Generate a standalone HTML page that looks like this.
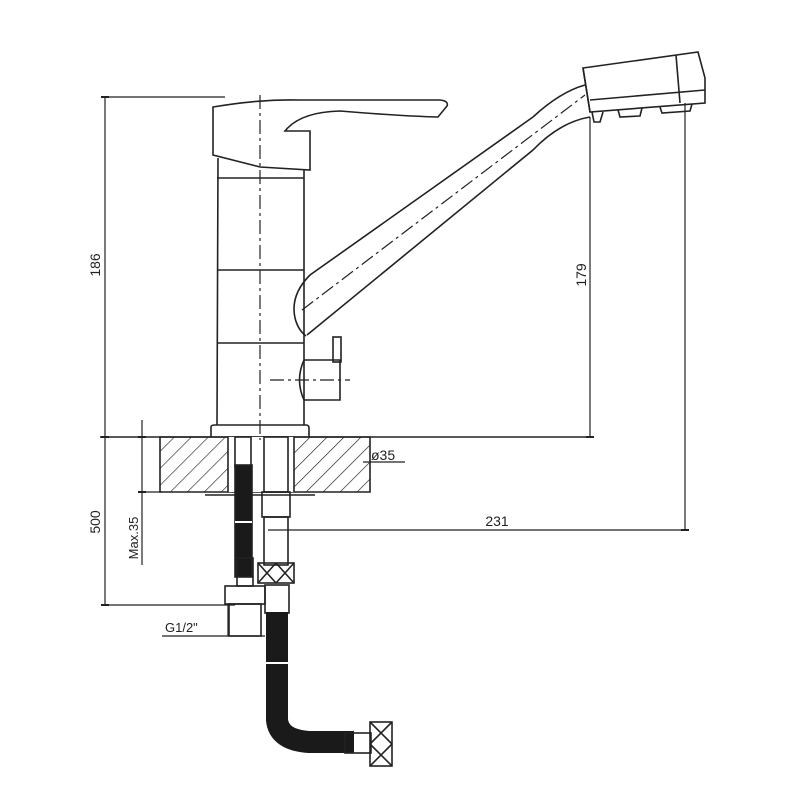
<!DOCTYPE html>
<html><head><meta charset="utf-8"><style>body{margin:0;background:#fff}svg{display:block}text{font-family:"Liberation Sans",sans-serif;fill:#222}</style></head>
<body>
<svg width="800" height="800" viewBox="0 0 800 800" xmlns="http://www.w3.org/2000/svg">
<defs>
<pattern id="h" width="12" height="12" patternUnits="userSpaceOnUse" patternTransform="rotate(45)"><line x1="0" y1="0" x2="0" y2="12" stroke="#222" stroke-width="1.3"/></pattern>
</defs>
<g fill="none" stroke="#222" stroke-width="1.6">
<line x1="105" y1="97" x2="105" y2="605" stroke-width="1.2"/>
<line x1="105" y1="97" x2="225" y2="97" stroke-width="1.2"/>
<line x1="100" y1="437" x2="592" y2="437" stroke-width="1.4"/>
<line x1="105" y1="605" x2="235" y2="605" stroke-width="1.2"/>
<line x1="590" y1="117" x2="590" y2="437" stroke-width="1.2"/>
<line x1="685" y1="103" x2="685" y2="530" stroke-width="1.2"/>
<line x1="268" y1="530" x2="685" y2="530" stroke-width="1.2"/>
<line x1="142" y1="420" x2="142" y2="565" stroke-width="1.2"/>
<line x1="140" y1="492" x2="162" y2="492" stroke-width="1.2"/>
<line x1="162" y1="636" x2="265" y2="636" stroke-width="1.2"/>
<line x1="228" y1="605" x2="228" y2="636" stroke-width="1.2"/>
<line x1="363" y1="462" x2="405" y2="462" stroke-width="1.2"/>
<path d="M160 437 H370 V492 H160 Z" fill="url(#h)"/>
<rect x="228" y="437" width="66" height="55" fill="#fff" stroke="none"/>
<line x1="228" y1="437" x2="228" y2="492"/><line x1="294" y1="437" x2="294" y2="492"/>
<line x1="205" y1="495" x2="315" y2="495"/>
<line x1="260" y1="95" x2="260" y2="440" stroke-dasharray="14,4,3,4" stroke-width="1.2"/>
<path d="M213 107 Q260 99 300 100 L440 100 Q449 101 447 106 L438 117 Q400 116 340 111 Q300 112 285 131 L310 131 L310 170 L260 167 L213 155 Z"/>
<path d="M218 158 L217 425 M304 170 L304 425"/>
<line x1="217" y1="178" x2="304" y2="178"/>
<line x1="217" y1="270" x2="304" y2="270"/>
<line x1="217" y1="343" x2="304" y2="343"/>
<path d="M211 437 V427 Q211 425 215 425 H306 Q309 425 309 428 V437"/>
<path d="M533 117 L310 275 Q290 295 295 318 Q298 330 306 336"/>
<path d="M533 117 Q560 92 585 85"/>
<path d="M307 335 L533 150 Q560 122 590 117"/>
<line x1="302" y1="310" x2="585" y2="95" stroke-dasharray="14,4,3,4" stroke-width="1.2"/>
<path d="M583 68 L698 52 L705 78 L705 103 L590 112 Z"/>
<line x1="583" y1="68" x2="590" y2="112"/>
<line x1="676" y1="55" x2="680" y2="103"/>
<line x1="590" y1="100" x2="705" y2="90"/>
<path d="M592 112 L594 122 L600 122 L603 112 M618 110 L620 117 L640 116 L642 108 M660 107 L662 113 L690 111 L692 104"/>
<path d="M304 360 L340 360 L340 400 L304 400 Q295 380 304 360"/>
<rect x="333" y="337" width="8" height="25"/>
<line x1="270" y1="380" x2="350" y2="380" stroke-dasharray="14,4,3,4" stroke-width="1.2"/>
<rect x="235" y="437" width="16" height="30"/>
<rect x="235" y="465" width="17" height="112" fill="#1a1a1a"/>
<line x1="235" y1="522" x2="252" y2="522" stroke="#fff" stroke-width="2"/>
<rect x="264" y="437" width="24" height="55"/>
<rect x="262" y="492" width="28" height="25"/>
<rect x="264" y="517" width="24" height="48"/>
<rect x="258" y="563" width="36" height="20"/>
<path d="M258 563 L276 583 M276 563 L258 583 M276 563 L294 583 M294 563 L276 583"/>
<rect x="237" y="558" width="16" height="28"/>
<rect x="225" y="586" width="40" height="18"/>
<rect x="229" y="604" width="32" height="32"/>
<rect x="265" y="585" width="24" height="28"/>
<path d="M268 612 V720 Q270 740 300 742 H345" stroke="#1a1a1a" stroke-width="22" transform="translate(9 0)"/>
<line x1="262" y1="663" x2="293" y2="663" stroke="#fff" stroke-width="2"/>
<rect x="345" y="733" width="26" height="20"/>
<rect x="370" y="722" width="22" height="44"/>
<path d="M370 722 L392 744 M392 722 L370 744 M370 744 L392 766 M392 744 L370 766"/>
</g>
<path d="M101 97h8M101 437h8M101 605h8M586 437h8M681 530h8M138 437h8M138 492h8" stroke="#222" stroke-width="2"/>
<g font-weight="500">
<text font-size="14" transform="translate(100 265) rotate(-90)" text-anchor="middle">186</text>
<text font-size="14" transform="translate(100 522) rotate(-90)" text-anchor="middle">500</text>
<text font-size="14" transform="translate(586 275) rotate(-90)" text-anchor="middle">179</text>
<text font-size="13" transform="translate(138 538) rotate(-90)" text-anchor="middle">Max.35</text>
<text x="497" y="526" font-size="14" text-anchor="middle">231</text>
<text x="371" y="460" font-size="14">ø35</text>
<text x="165" y="632" font-size="13">G1/2"</text>
</g>
</svg>
</body></html>
